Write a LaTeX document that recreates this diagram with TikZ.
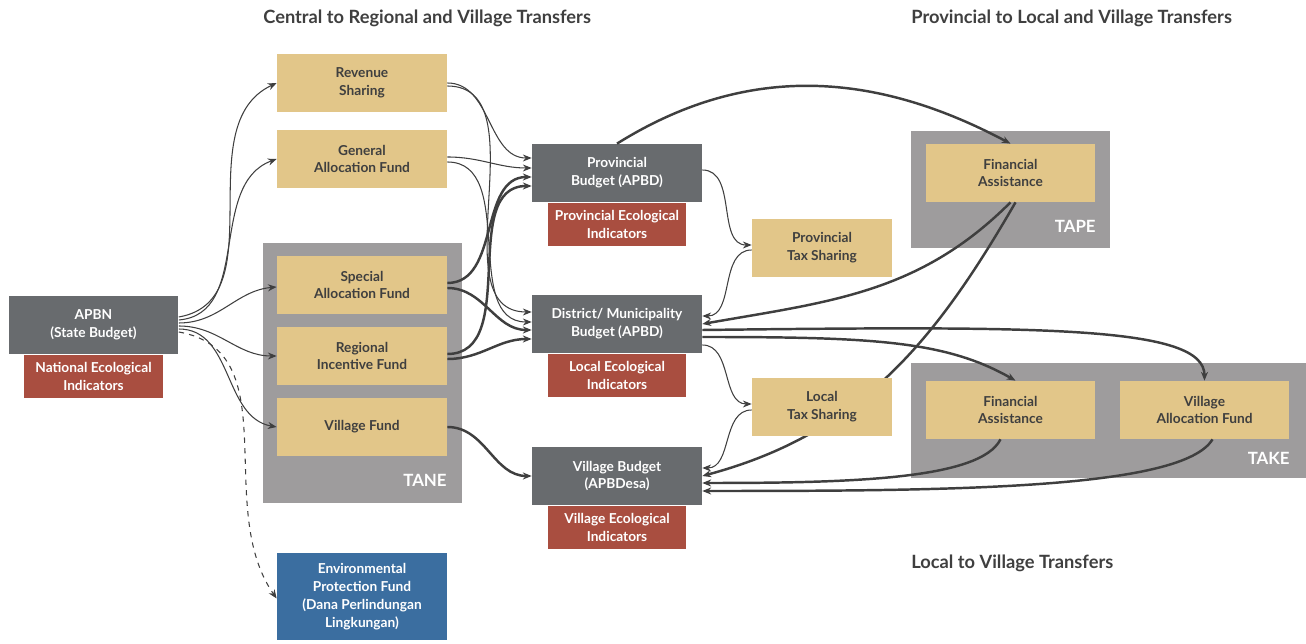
\documentclass[tikz,border=0pt]{standalone}
\usepackage{fontspec}
\setmainfont{Lato}
\usepackage{tikz}
\usepackage{xcolor}
\usetikzlibrary{calc,positioning,arrows.meta}

\definecolor{budgetgray}{HTML}{686B6E}
\definecolor{fundtan}{HTML}{E2C689}
\definecolor{ecored}{HTML}{A94E40}
\definecolor{envblue}{HTML}{3B6EA0}
\definecolor{groupgray}{HTML}{9E9C9D}
\definecolor{inkgray}{HTML}{3F3F3F}

\begin{document}
\begin{tikzpicture}[x=0.02cm,y=-0.02cm,font=\bfseries\fontsize{7.8}{10.2}\selectfont,>={Stealth[length=5pt,width=4pt]},
    box/.style={inner sep=0pt,align=center,minimum width=3.4cm,minimum height=1.16cm},
    budget/.style={box,fill=budgetgray,text=white},
    fund/.style={box,fill=fundtan,text=inkgray},
    indic/.style={box,fill=ecored,text=white,minimum width=2.78cm,minimum height=0.87cm},
    taxbox/.style={fund,minimum width=2.8cm},
    group/.style={fill=groupgray,inner sep=0pt},
    grouplabel/.style={text=white,inner sep=0pt,font=\bfseries\fontsize{9.6}{12}\selectfont,anchor=east},
    heading/.style={text=inkgray,inner sep=0pt,font=\bfseries\fontsize{10.4}{12}\selectfont,anchor=west},
    flow/.style={->,draw=inkgray,line width=0.6pt},
    bigflow/.style={->,draw=inkgray,line width=1.4pt}]
  \useasboundingbox (0,0) rectangle (1306,644);

  % grey groups
  \node[group,minimum width=3.98cm,minimum height=5.2cm] (tane) at (362.5,373) {};
  \node[group,minimum width=3.98cm,minimum height=2.34cm] (tape) at (1010.5,189.5) {};
  \node[group,minimum width=7.9cm,minimum height=2.3cm] (take) at (1108.5,420.5) {};
  \node[grouplabel] (tanelbl) at (447,480) {TANE};
  \node[grouplabel] (tapelbl) at (1096,226) {TAPE};
  \node[grouplabel] (takelbl) at (1290,458) {TAKE};

  % headings
  \node[heading] (centralhd) at (263,18) {Central to Regional and Village Transfers};
  \node[heading] (provhd) at (911,18) {Provincial to Local and Village Transfers};
  \node[heading] (localhd) at (911,563) {Local to Village Transfers};

  % central
  \node[budget] (apbn) at (93.5,325) {APBN\\(State Budget)};
  \node[indic,below=0pt of apbn] (natind) {National Ecological\\Indicators};
  \node[fund] (revenue) at (362,83) {Revenue\\Sharing};
  \node[fund] (general) at (362,159) {General\\Allocation Fund};
  \node[fund] (special) at (362,285) {Special\\Allocation Fund};
  \node[fund] (incentive) at (362,356) {Regional\\Incentive Fund};
  \node[fund] (villagefund) at (362,427) {Village Fund};
  \node[box,fill=envblue,text=white,minimum height=1.74cm] (envfund) at (362,596.5) {Environmental\\Protection Fund\\(Dana Perlindungan\\Lingkungan)};

  % budgets
  \node[budget] (prov) at (617,173) {Provincial\\Budget (APBD)};
  \node[indic,below=0pt of prov] (provind) {Provincial Ecological\\Indicators};
  \node[budget] (district) at (617,324) {District/ Municipality\\Budget (APBD)};
  \node[indic,below=0pt of district] (localind) {Local Ecological\\Indicators};
  \node[budget] (village) at (617,476) {Village Budget\\(APBDesa)};
  \node[indic,below=0pt of village] (villageind) {Village Ecological\\Indicators};

  % provincial and local
  \node[taxbox] (provtax) at (822,248) {Provincial\\Tax Sharing};
  \node[fund] (tapefa) at (1010.5,173) {Financial\\Assistance};
  \node[fund] (takefa) at (1010.5,410) {Financial\\Assistance};
  \node[fund] (vaf) at (1204.5,410) {Village\\Allocation Fund};

  % runs behind the local tax box
  \draw[bigflow] ($(tapefa.south)+(5,0)$) to[out=240,in=15] (village.east);
  \node[taxbox] (localtax) at (822,407) {Local\\Tax Sharing};

  % APBN fan
  \draw[flow] ($(apbn.east)+(0,-8)$) to[out=10,in=205] (revenue.west);
  \draw[flow] ($(apbn.east)+(0,-5)$) to[out=5,in=200] (general.west);
  \draw[flow] ($(apbn.east)+(0,-2)$) to[out=0,in=185] ($(special.west)+(0,2)$);
  \draw[flow] ($(apbn.east)+(0,1)$) to[out=0,in=180] (incentive.west);
  \draw[flow] ($(apbn.east)+(0,4)$) to[out=0,in=170] (villagefund.west);
  \draw[flow,dashed] ($(apbn.east)+(0,7)$) to[out=-10,in=125] ($(envfund.west)+(0,2)$);

  % transfers to budgets
  \draw[flow] (revenue.east) to[out=0,in=180] ($(prov.west)+(0,-15)$);
  \draw[flow] ($(revenue.east)+(0,3)$) to[out=0,in=180] ($(district.west)+(0,-12)$);
  \draw[flow] ($(general.east)+(0,-2)$) to[out=0,in=180] ($(prov.west)+(0,-5)$);
  \draw[flow] ($(general.east)+(0,3)$) to[out=0,in=180] ($(district.west)+(0,-2)$);
  \draw[bigflow] ($(special.east)+(0,-2)$) to[out=0,in=180] ($(prov.west)+(0,4)$);
  \draw[bigflow] ($(special.east)+(0,3)$) to[out=0,in=180] ($(district.west)+(0,6)$);
  \draw[bigflow] ($(incentive.east)+(0,-2)$) to[out=0,in=180] ($(prov.west)+(0,13)$);
  \draw[bigflow] ($(incentive.east)+(0,3)$) to[out=0,in=180] ($(district.west)+(0,15)$);
  \draw[bigflow] (villagefund.east) to[out=0,in=180] (village.west);

  % tax sharing
  \draw[flow] ($(prov.east)+(0,-3)$) to[out=0,in=180] ($(provtax.west)+(0,-3)$);
  \draw[flow] ($(provtax.west)+(0,2)$) to[out=180,in=0] ($(district.east)+(0,-8)$);
  \draw[flow] ($(district.east)+(0,21)$) to[out=0,in=180] ($(localtax.west)+(0,-3)$);
  \draw[flow] ($(localtax.west)+(0,3)$) to[out=180,in=0] ($(village.east)+(0,-8)$);

  % assistance and allocation
  \draw[bigflow] (prov.north) to[out=32,in=152] (tapefa.north);
  \draw[bigflow] (tapefa.south) to[out=225,in=10] (district.east);
  \draw[bigflow] ($(district.east)+(0,6)$) .. controls +(340,-4) and +(0,-55) .. (vaf.north);
  \draw[bigflow] ($(district.east)+(0,13)$) .. controls +(170,0) and +(-70,-40) .. ($(takefa.north)+(5,0)$);
  \draw[bigflow] ($(takefa.south)+(-10,0)$) .. controls +(-20,40) and +(150,0) .. ($(village.east)+(0,7)$);
  \draw[bigflow] ($(vaf.south)+(8,0)$) .. controls +(-30,50) and +(250,0) .. ($(village.east)+(0,15)$);
\end{tikzpicture}
\end{document}
